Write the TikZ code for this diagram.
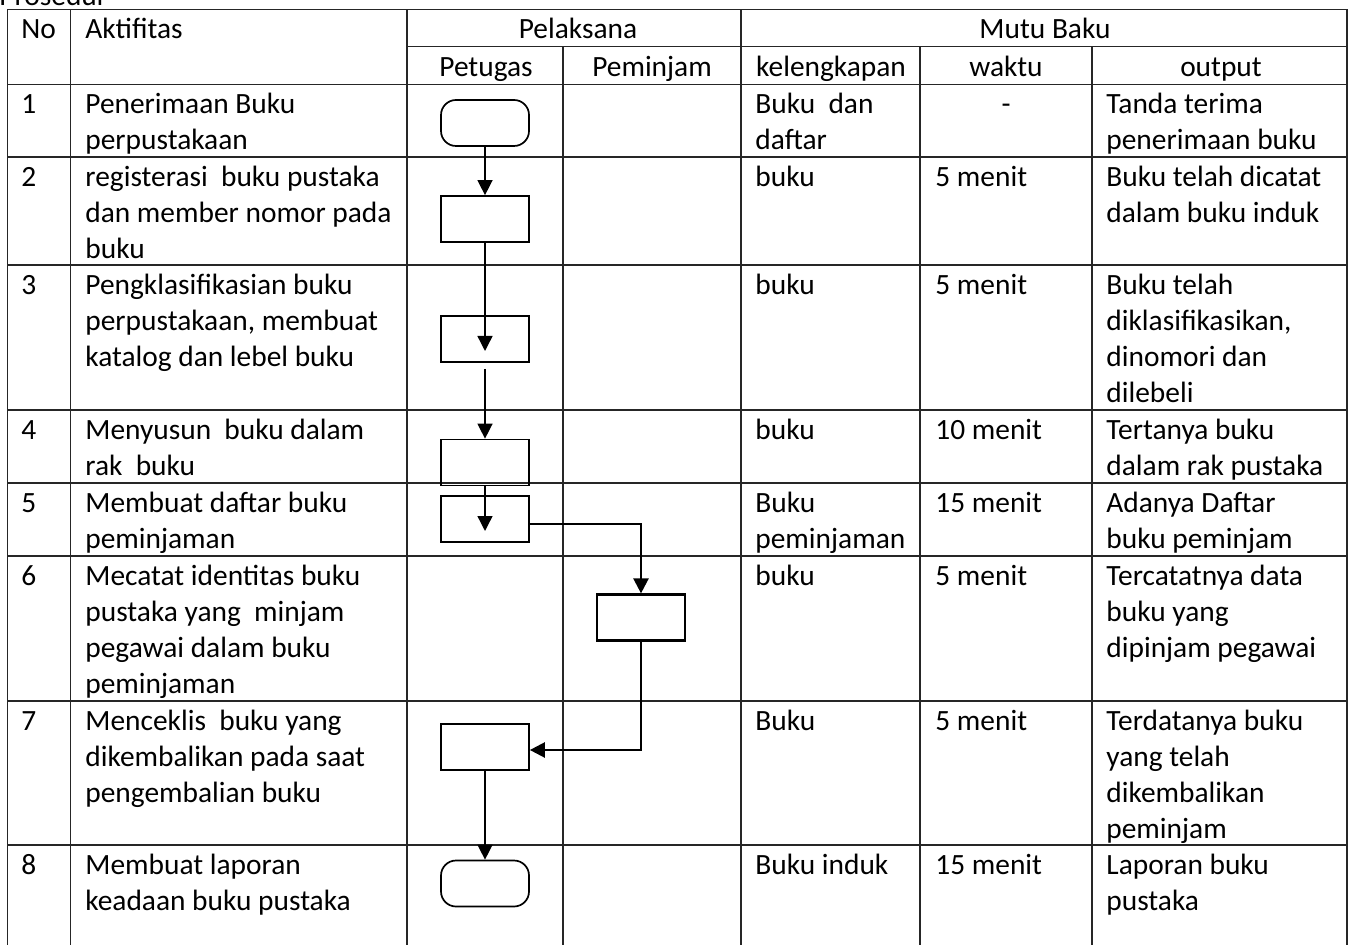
\documentclass[tikz,border=0pt]{standalone}
\usepackage{fontspec}
\setmainfont{Carlito}
\usetikzlibrary{arrows.meta}
\newcommand\celltxt[1]{\begin{tabular}[t]{@{}l@{}}#1\end{tabular}}
\tikzset{
  tline/.style={line width=0.65pt, draw=black!85},
  txt/.style={anchor=base west, inner sep=0pt, yshift=-0.75pt, font=\fontsize{14.7pt}{18pt}\selectfont},
  ctxt/.style={anchor=base, inner sep=0pt, yshift=-0.75pt, font=\fontsize{14.7pt}{18pt}\selectfont},
  fbox/.style={draw, line width=0.85pt, minimum width=44pt, minimum height=23pt, inner sep=0pt},
  term/.style={fbox, rounded corners=7.5pt},
  farrow/.style={line width=0.7pt, -{Triangle[length=7.5pt,width=7.5pt]}},
  tarrow/.style={line width=1.2pt, -{Triangle[length=7.5pt,width=7.5pt]}},
}
\begin{document}
\begin{tikzpicture}[x=0.5pt,y=-0.5pt]
\useasboundingbox (0,0) rectangle (1352,945);
% partially visible title
\node[txt] (title) at (-1,4) {Prosedur};
% table lines
\draw[tline] (7.5,9.3) -- (1347,9.3);
\draw[tline] (407,46.7) -- (1347,46.7);
\foreach \y in {84.5,157,265,410,483,556,701,845}
  \draw[tline] (7.5,\y) -- (1347,\y);
\foreach \x in {7.5,70.7,407,741,1347}
  \draw[tline] (\x,9.3) -- (\x,945);
\foreach \x in {563,920,1092}
  \draw[tline] (\x,46.7) -- (\x,945);
% headers
\node[txt] (hno) at (21,37) {No};
\node[txt] (hakt) at (85,37) {Aktifitas};
\node[ctxt] (hpel) at (578,37) {Pelaksana};
\node[ctxt] (hmutu) at (1045,37) {Mutu Baku};
\node[ctxt] (hpet) at (486,75) {Petugas};
\node[ctxt] (hpem) at (652,75) {Peminjam};
\node[ctxt] (hkel) at (831,75) {kelengkapan};
\node[ctxt] (hwak) at (1006,75) {waktu};
\node[ctxt] (hout) at (1221,75) {output};
% row 1
\node[txt] (n1) at (21,112.5) {1};
\node[txt] (a1) at (85,112.5) {\celltxt{Penerimaan Buku\\perpustakaan}};
\node[txt] (k1) at (755,112.5) {\celltxt{Buku\ \ dan\\daftar}};
\node[ctxt] (w1) at (1006,112.5) {-};
\node[txt] (o1) at (1106,112.5) {\celltxt{Tanda terima\\penerimaan buku}};
% row 2
\node[txt] (n2) at (21,185) {2};
\node[txt] (a2) at (85,185) {\celltxt{registerasi\ \ buku pustaka\\dan member nomor pada\\buku}};
\node[txt] (k2) at (755,185) {buku};
\node[txt] (w2) at (935,185) {5 menit};
\node[txt] (o2) at (1106,185) {\celltxt{Buku telah dicatat\\dalam buku induk}};
% row 3
\node[txt] (n3) at (21,293) {3};
\node[txt] (a3) at (85,293) {\celltxt{Pengklasifikasian buku\\perpustakaan, membuat\\katalog dan lebel buku}};
\node[txt] (k3) at (755,293) {buku};
\node[txt] (w3) at (935,293) {5 menit};
\node[txt] (o3) at (1106,293) {\celltxt{Buku telah\\diklasifikasikan,\\dinomori dan\\dilebeli}};
% row 4
\node[txt] (n4) at (21,438) {4};
\node[txt] (a4) at (85,438) {\celltxt{Menyusun\ \ buku dalam\\rak\ \ buku}};
\node[txt] (k4) at (755,438) {buku};
\node[txt] (w4) at (935,438) {10 menit};
\node[txt] (o4) at (1106,438) {\celltxt{Tertanya buku\\dalam rak pustaka}};
% row 5
\node[txt] (n5) at (21,511) {5};
\node[txt] (a5) at (85,511) {\celltxt{Membuat daftar buku\\peminjaman}};
\node[txt] (k5) at (755,511) {\celltxt{Buku\\peminjaman}};
\node[txt] (w5) at (935,511) {15 menit};
\node[txt] (o5) at (1106,511) {\celltxt{Adanya Daftar\\buku peminjam}};
% row 6
\node[txt] (n6) at (21,584) {6};
\node[txt] (a6) at (85,584) {\celltxt{Mecatat identitas buku\\pustaka yang\ \ minjam\\pegawai dalam buku\\peminjaman}};
\node[txt] (k6) at (755,584) {buku};
\node[txt] (w6) at (935,584) {5 menit};
\node[txt] (o6) at (1106,584) {\celltxt{Tercatatnya data\\buku yang\\dipinjam pegawai}};
% row 7
\node[txt] (n7) at (21,729) {7};
\node[txt] (a7) at (85,729) {\celltxt{Menceklis\ \ buku yang\\dikembalikan pada saat\\pengembalian buku}};
\node[txt] (k7) at (755,729) {Buku};
\node[txt] (w7) at (935,729) {5 menit};
\node[txt] (o7) at (1106,729) {\celltxt{Terdatanya buku\\yang telah\\dikembalikan\\peminjam}};
% row 8
\node[txt] (n8) at (21,873) {8};
\node[txt] (a8) at (85,873) {\celltxt{Membuat laporan\\keadaan buku pustaka}};
\node[txt] (k8) at (755,873) {Buku induk};
\node[txt] (w8) at (935,873) {15 menit};
\node[txt] (o8) at (1106,873) {\celltxt{Laporan buku\\pustaka}};
% flowchart shapes
\node[term] (t1) at (485,123) {};
\node[fbox] (b2) at (485,219) {};
\node[fbox] (b3) at (485,339) {};
\node[fbox] (b4) at (485,462.5) {};
\node[fbox] (b5) at (485,519) {};
\node[fbox, line width=1.1pt] (b6) at (641,617.5) {};
\node[fbox] (b7) at (485,747) {};
\node[term] (t8) at (485,883.5) {};
\coordinate (tip3) at (485,351);
\coordinate (start3) at (485,369);
\coordinate (tip5) at (485,531);
% connectors
\draw[farrow] (t1) -- (b2);
\draw[farrow] (b2.south) -- (tip3);
\draw[farrow] (start3) -- (b4.north);
\draw[farrow] (b4.south) -- (tip5);
\draw[tarrow] ([yshift=-2.5pt]b5.east) -| (b6.north);
\draw[tarrow] (b6.south) |- ([yshift=-1.5pt]b7.east);
\draw[farrow] (b7) -- (t8);
\end{tikzpicture}
\end{document}
